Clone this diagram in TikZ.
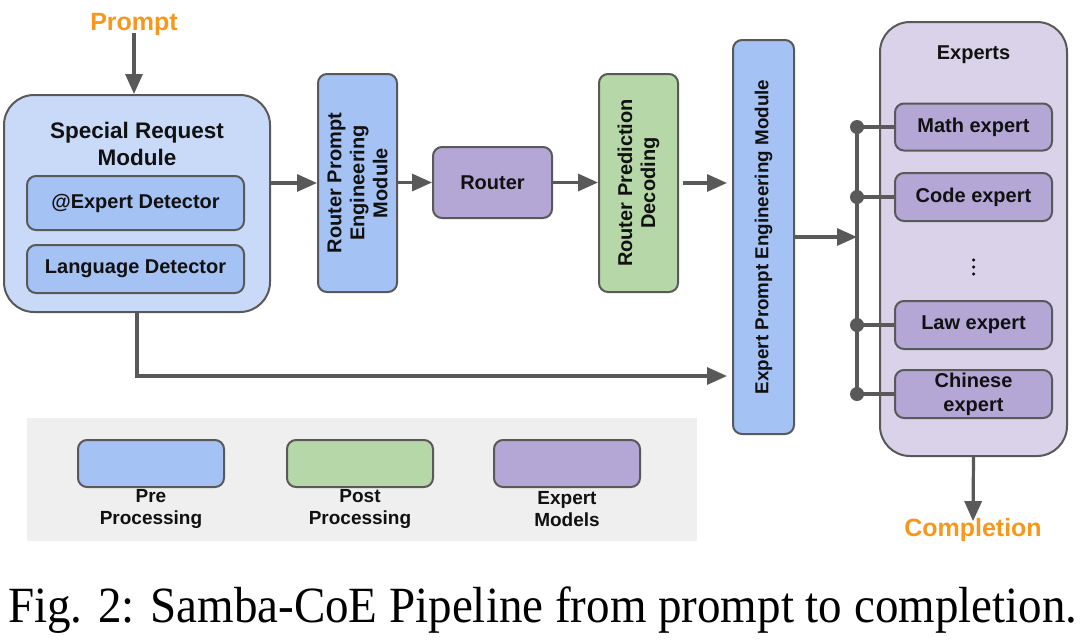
\documentclass[tikz,border=0pt]{standalone}
\usepackage{fontspec}
\setmainfont{Liberation Sans}
\newfontfamily\capfont{Liberation Serif}
\usetikzlibrary{arrows.meta}
\definecolor{bordc}{HTML}{595959}
\definecolor{arrc}{HTML}{595959}
\definecolor{prefill}{HTML}{A4C2F4}
\definecolor{srmfill}{HTML}{C9DAF8}
\definecolor{postfill}{HTML}{B6D7A8}
\definecolor{expfill}{HTML}{B4A7D6}
\definecolor{contfill}{HTML}{D9D2E9}
\definecolor{legfill}{HTML}{EFEFEF}
\definecolor{orangec}{HTML}{F7981D}
\definecolor{textc}{HTML}{111111}
\tikzset{
  box/.style={draw=bordc, line width=2pt, rounded corners=9pt, inner sep=0pt},
  lbl/.style={font=\bfseries\fontsize{20}{23}\selectfont, text=textc, align=center, inner sep=0pt},
  arr/.style={draw=arrc, line width=3.2pt, -{Triangle[length=20pt,width=17pt]}},
  wire/.style={draw=arrc, line width=3.2pt},
  junct/.style={circle, fill=arrc, inner sep=0pt, minimum size=14pt},
  smalldot/.style={circle, fill=textc, inner sep=0pt, minimum size=3.5pt},
}
\begin{document}
\begin{tikzpicture}[x=1pt,y=-1pt]
\useasboundingbox (0,0) rectangle (1080,641);
\fill[white] (0,0) rectangle (1080,641);

% legend background
\fill[legfill] (27,418) rectangle (697,541);

% Prompt
\node[lbl, text=orangec, font=\bfseries\fontsize{25}{28}\selectfont] (prompt) at (134,24) {Prompt};

% Special Request Module
\node[box, fill=srmfill, rounded corners=30pt, minimum width=266pt, minimum height=217pt] (srm) at (137,203.5) {};
\node[lbl, font=\bfseries\fontsize{22.5}{27}\selectfont] (srmt) at (137,144) {Special Request\\Module};
\node[box, fill=prefill, minimum width=217pt, minimum height=54pt] (atexp) at (135.5,203) {};
\node[lbl] (atexpt) at (atexp.center) {@Expert Detector};
\node[box, fill=prefill, minimum width=217pt, minimum height=48pt] (lang) at (135.5,269) {};
\node[lbl] (langt) at (lang.center) {Language Detector};

% Router Prompt Engineering Module
\node[box, fill=prefill, minimum width=79pt, minimum height=218pt] (rpem) at (357.5,183) {};
\node[lbl, rotate=90] (rpemt) at (rpem.center) {Router Prompt\\Engineering\\Module};

% Router
\node[box, fill=expfill, minimum width=119pt, minimum height=71pt] (router) at (492.5,182.5) {};
\node[lbl] (routert) at (router.center) {Router};

% Router Prediction Decoding
\node[box, fill=postfill, minimum width=79pt, minimum height=218pt] (rpd) at (638.5,183) {};
\node[lbl, rotate=90] (rpdt) at (rpd.center) {Router Prediction\\Decoding};

% Expert Prompt Engineering Module
\node[box, fill=prefill, minimum width=61pt, minimum height=394pt] (epem) at (763.5,237) {};
\node[lbl, rotate=90, font=\bfseries\fontsize{18.8}{22}\selectfont] (epemt) at (epem.center) {Expert Prompt Engineering Module};

% Experts container
\node[box, fill=contfill, rounded corners=30pt, minimum width=187pt, minimum height=434pt] (experts) at (973.5,239) {};
\node[lbl] (expertst) at (973.5,55) {Experts};
\node[box, fill=expfill, minimum width=157pt, minimum height=47pt] (math) at (973.5,127) {};
\node[lbl] (matht) at (math.center) {Math expert};
\node[box, fill=expfill, minimum width=157pt, minimum height=48pt] (code) at (973.5,197) {};
\node[lbl] (codet) at (code.center) {Code expert};
\node[smalldot] (vd1) at (973.5,260) {};
\node[smalldot] (vd2) at (973.5,267) {};
\node[smalldot] (vd3) at (973.5,274) {};
\node[box, fill=expfill, minimum width=157pt, minimum height=48pt] (law) at (973.5,325) {};
\node[lbl] (lawt) at (law.center) {Law expert};
\node[box, fill=expfill, minimum width=157pt, minimum height=48pt] (chin) at (973.5,394) {};
\node[lbl, font=\bfseries\fontsize{20}{24}\selectfont] (chint) at (chin.center) {Chinese\\expert};

% Completion
\node[lbl, text=orangec, font=\bfseries\fontsize{25}{28}\selectfont] (completion) at (973,530) {Completion};

% Legend
\node[box, fill=prefill, minimum width=146pt, minimum height=47pt] (legpre) at (151,463.5) {};
\node[box, fill=postfill, minimum width=146pt, minimum height=47pt] (legpost) at (360,463.5) {};
\node[box, fill=expfill, minimum width=146pt, minimum height=47pt] (legexp) at (567,463.5) {};
\node[lbl, font=\bfseries\fontsize{19}{22}\selectfont] (legpret) at (151,509) {Pre\\Processing};
\node[lbl, font=\bfseries\fontsize{19}{22}\selectfont] (legpostt) at (360,509) {Post\\Processing};
\node[lbl, font=\bfseries\fontsize{19}{22}\selectfont] (legexpt) at (567,509) {Expert\\Models};

% Caption
\node[anchor=base west, inner sep=0pt, font=\capfont\fontsize{47}{50}\selectfont, text=black] (caption) at (8,622) {\scalebox{1}[1.08]{Fig. 2: Samba-CoE Pipeline from prompt to completion.}};

% Connectors
\coordinate (lowy) at (0,376);
\coordinate (busx) at (857,237);
\draw[arr] ([yshift=2pt]prompt.south) -- (prompt.south |- srm.north);
\draw[arr] (srm.east |- rpem.center) -- (rpem.west);
\draw[arr] (rpem.east |- router.center) -- (router.west);
\draw[arr] (router.east) -- (rpd.west |- router.center);
\draw[arr, shorten <=4pt, shorten >=5pt] (rpd.east) -- (epem.west |- rpd.east);
\draw[arr, shorten >=5pt] (srm.south) |- (epem.west |- lowy);
\draw[arr] (epem.east) -- (busx);
\draw[wire] (math.west -| busx) -- (chin.west -| busx);
\foreach \e in {math,code,law,chin}{
  \draw[wire] (\e.west -| busx) -- (\e.west);
  \node[junct] (j\e) at (\e.west -| busx) {};
}
\draw[arr] (experts.south) -- ([yshift=-3pt]completion.north);
\end{tikzpicture}
\end{document}
